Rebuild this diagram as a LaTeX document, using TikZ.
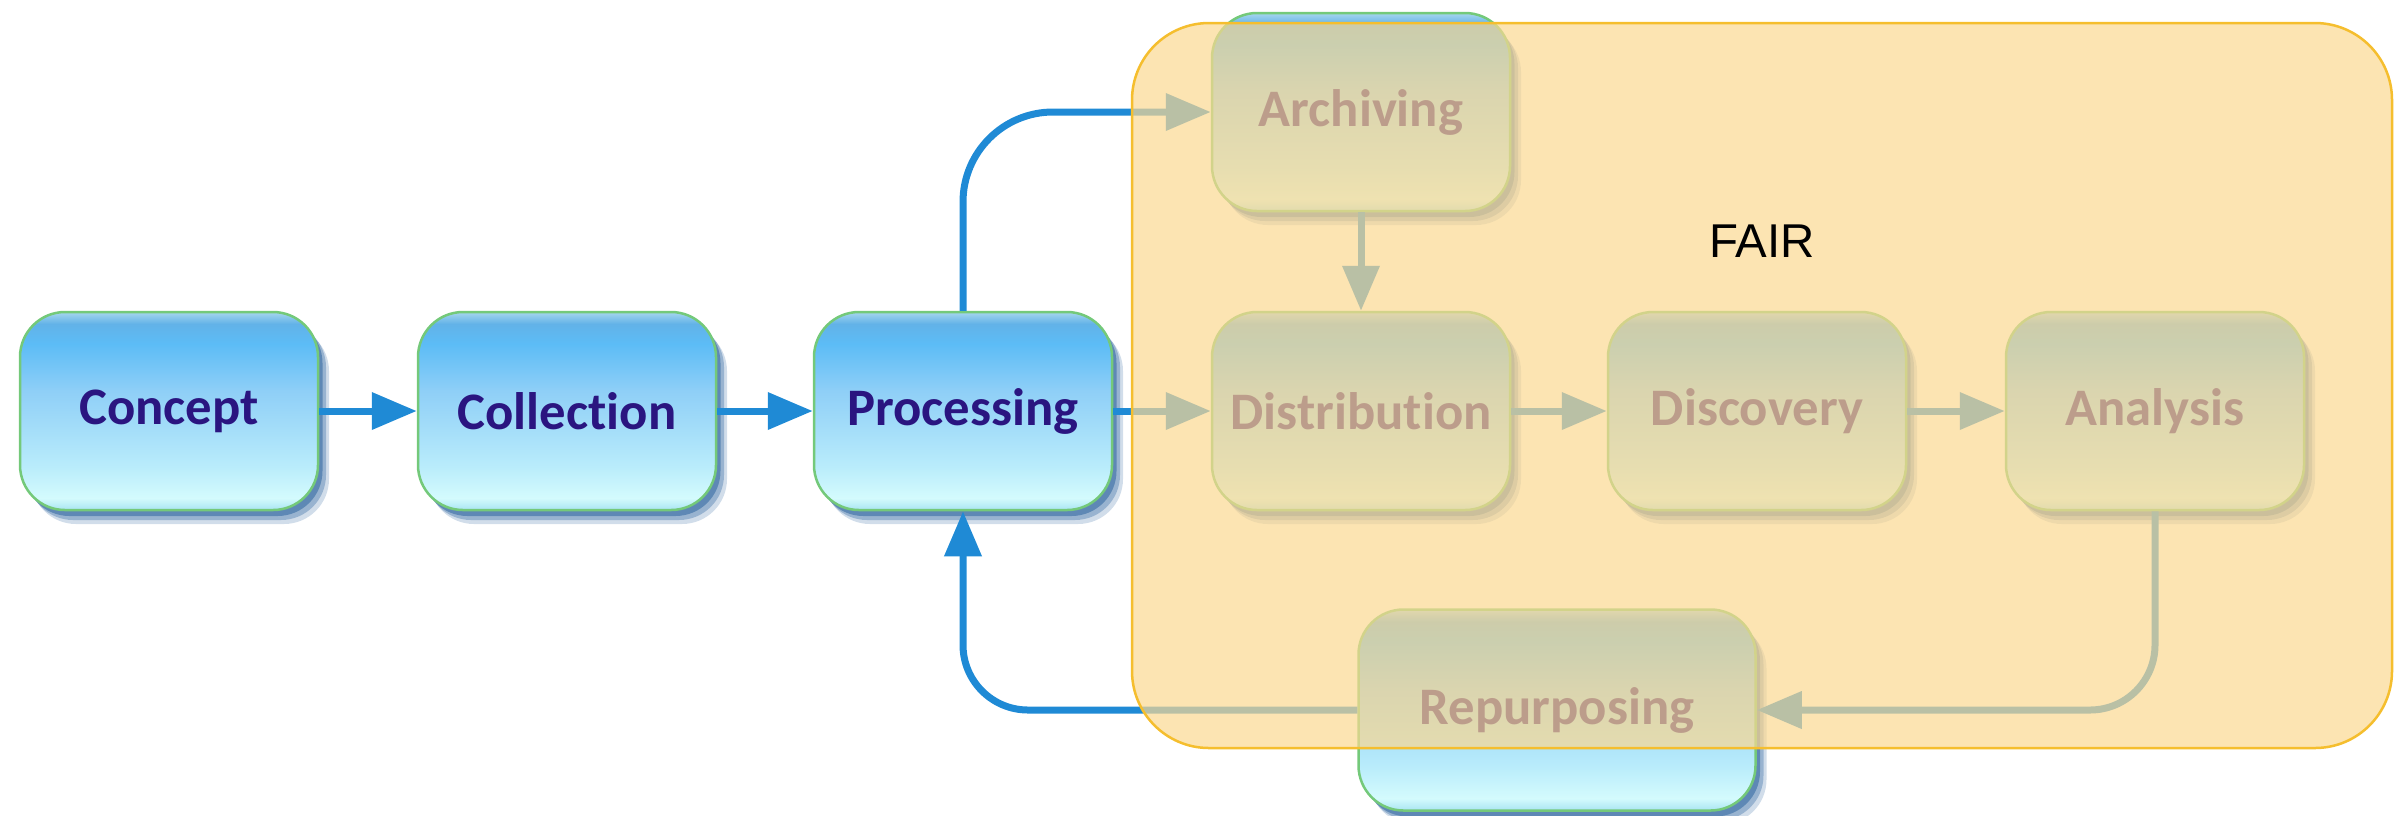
\documentclass[tikz,border=0pt]{standalone}
\usepackage{fontspec}
\usepackage{tikz}
\usetikzlibrary{arrows.meta,shadows}
\newfontfamily\stagefont{Carlito}[Ligatures = NoCommon]
\newfontfamily\fairfont{Liberation Sans}
\definecolor{flowblue}{HTML}{1F8AD5}
\definecolor{stageedge}{HTML}{74C97A}
\definecolor{stagetext}{HTML}{2A1580}
\definecolor{stageshadow}{HTML}{175494}
\definecolor{fairfill}{HTML}{FBD891}
\definecolor{fairedge}{HTML}{F5BE2E}
\definecolor{bxA}{HTML}{A8E4F2}
\definecolor{bxB}{HTML}{D4FBFD}
\definecolor{bxC}{HTML}{B9ECFB}
\definecolor{bxD}{HTML}{8FCFF7}
\definecolor{bxE}{HTML}{5CBCF6}
\definecolor{bxF}{HTML}{62B2E8}
\definecolor{bxG}{HTML}{A6D6EE}
\pgfdeclareverticalshading{stagefill}{100bp}{color(0bp)=(bxA); color(25bp)=(bxA); color(28bp)=(bxB); color(36bp)=(bxC); color(55bp)=(bxD); color(67bp)=(bxE); color(72bp)=(bxF); color(75bp)=(bxG); color(100bp)=(bxG)}

\begin{document}
\begin{tikzpicture}[x = 0.1mm, y = -0.1mm,
		stage/.style = {draw = stageedge, line width = 0.25mm, rounded corners = 4.5mm, shading = stagefill, minimum width = 29.8mm, minimum height = 19.8mm, inner sep = 0pt, font = \stagefont\bfseries\fontsize{15}{18}\selectfont, text = stagetext,
			drop shadow = {shadow xshift = 1.1mm, shadow yshift = -1.4mm, fill = stageshadow, opacity = 0.2},
			drop shadow = {shadow xshift = 0.8mm, shadow yshift = -1mm, fill = stageshadow, opacity = 0.3},
			drop shadow = {shadow xshift = 0.45mm, shadow yshift = -0.6mm, fill = stageshadow, opacity = 0.45}},
		flow/.style = {line width = 0.7mm, flowblue, -{Triangle[length = 4.5mm, width = 3.6mm]}}]
				\useasboundingbox (0,0) rectangle (2408,815);
				\node [stage] (concept) at (169,411) {Concept};
				\node [stage] (collection) at (567,411) {Collection};
				\node [stage] (processing) at (963,411) {Processing};
				\node [stage] (distribution) at (1361,411) {Distribution};
				\node [stage] (discovery) at (1757,411) {Discovery};
				\node [stage] (analysis) at (2155,411) {Analysis};
				\node [stage] (archiving) at (1361,112) {Archiving};
				\node [stage, minimum width = 39.7mm, minimum height = 20.1mm] (repurposing) at (1557,710) {Repurposing};
				\draw [flow] (concept) -- (collection);
				\draw [flow] (collection) -- (processing);
				\draw [flow] (processing) -- (distribution);
				\draw [flow] (distribution) -- (discovery);
				\draw [flow] (discovery) -- (analysis);
				\draw [flow] (archiving) -- (distribution);
				\draw [flow, rounded corners = 9mm] (processing.north) |- (archiving.west);
				\draw [flow, rounded corners = 6.5mm] (analysis.south) |- (repurposing.east);
				\draw [flow, rounded corners = 6.5mm] (repurposing.west) -| (processing.south);
				\draw [fill = fairfill, fill opacity = 0.7, draw = fairedge, line width = 0.25mm, rounded corners = 7.7mm] (1132,23) rectangle (2392,748);
				\node [font = \fairfont\fontsize{13.5}{16}\selectfont] (fair) at (1762,241) {FAIR};
		\end{tikzpicture}
\end{document}
